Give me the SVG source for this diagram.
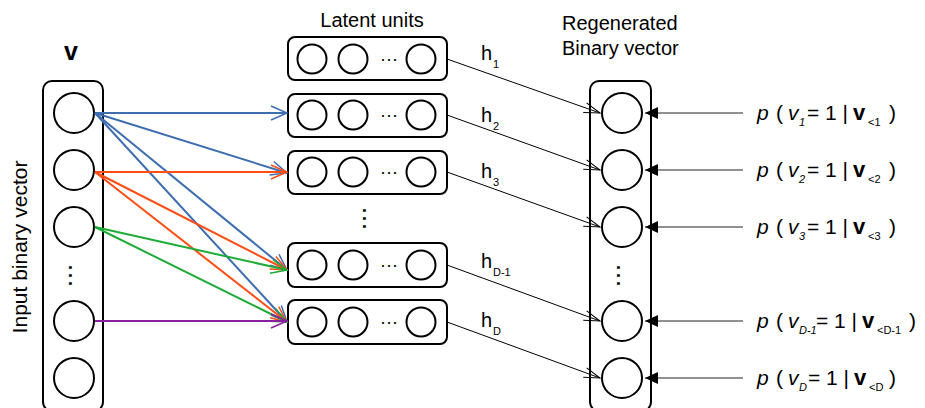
<svg xmlns="http://www.w3.org/2000/svg" width="925" height="408" viewBox="0 0 925 408">
<style>
text{font-family:"Liberation Sans",Arial,sans-serif;fill:#000}
.t{font-size:20px}
.c{fill:#fff;stroke:#000;stroke-width:2}
.box{fill:#fff;stroke:#000;stroke-width:2}
.dots{font-size:18px;font-weight:bold}
.sd{font-size:18px}
.h{fill:none;stroke:#000;stroke-width:1;marker-end:url(#mk)}
.p{fill:none;stroke:#222;stroke-width:1.2;marker-end:url(#mf)}
.bl{stroke:#3e6db0;stroke-width:2;fill:none;marker-end:url(#mb)}
.or{stroke:#ff4d14;stroke-width:2;fill:none;marker-end:url(#mo)}
.gr{stroke:#1eab38;stroke-width:2;fill:none;marker-end:url(#mg)}
.pu{stroke:#8a1f9e;stroke-width:2;fill:none;marker-end:url(#mp)}
.pl{font-size:21px}
.s{font-size:11px}
</style>
<defs>
<marker id="mb" markerUnits="userSpaceOnUse" markerWidth="20" markerHeight="18" refX="17" refY="8" orient="auto"><path d="M1,1 L17,8 L1,15" fill="none" stroke="#3e6db0" stroke-width="1.5"/></marker>
<marker id="mo" markerUnits="userSpaceOnUse" markerWidth="20" markerHeight="18" refX="17" refY="8" orient="auto"><path d="M1,1 L17,8 L1,15" fill="none" stroke="#ff4d14" stroke-width="1.5"/></marker>
<marker id="mg" markerUnits="userSpaceOnUse" markerWidth="20" markerHeight="18" refX="17" refY="8" orient="auto"><path d="M1,1 L17,8 L1,15" fill="none" stroke="#1eab38" stroke-width="1.5"/></marker>
<marker id="mp" markerUnits="userSpaceOnUse" markerWidth="20" markerHeight="18" refX="17" refY="8" orient="auto"><path d="M1,1 L17,8 L1,15" fill="none" stroke="#8a1f9e" stroke-width="1.5"/></marker>
<marker id="mk" markerUnits="userSpaceOnUse" markerWidth="20" markerHeight="16" refX="17" refY="8" orient="auto"><path d="M1,3 L17,8 L1,13" fill="none" stroke="#000" stroke-width="1"/></marker>
<marker id="mf" markerUnits="userSpaceOnUse" markerWidth="16" markerHeight="14" refX="13" refY="6" orient="auto"><path d="M0,0 L13,6 L0,12 z" fill="#000"/></marker>
</defs>

<text x="71" y="60" text-anchor="middle" style="font-size:25px;font-weight:bold">v</text>
<text transform="translate(27,247) rotate(-90)" text-anchor="middle" style="font-size:21px">Input binary vector</text>
<text x="372" y="27" text-anchor="middle" class="t">Latent units</text>
<text x="562" y="30" class="t">Regenerated</text>
<text x="562" y="55" class="t">Binary vector</text>

<g id="input">
<rect x="43" y="81" width="60" height="330" rx="9" class="box"/>
<circle cx="74" cy="113" r="20" class="c"/>
<circle cx="74" cy="170" r="20" class="c"/>
<circle cx="74" cy="227" r="20" class="c"/>
<text transform="translate(69,277) rotate(90)" text-anchor="middle" class="dots" letter-spacing="3">...</text>
<circle cx="74" cy="321" r="20" class="c"/>
<circle cx="74" cy="378" r="20" class="c"/>
</g>

<g id="latent1">
<rect x="288" y="37" width="159" height="43" rx="7" class="box"/>
<circle cx="312" cy="59" r="14.5" class="c"/><circle cx="353" cy="59" r="14.5" class="c"/>
<text x="389" y="65" text-anchor="middle" class="sd">···</text>
<circle cx="421" cy="59" r="14.5" class="c"/>
</g>
<g id="latent2">
<rect x="288" y="94" width="159" height="43" rx="7" class="box"/>
<circle cx="312" cy="115" r="14.5" class="c"/><circle cx="353" cy="115" r="14.5" class="c"/>
<text x="389" y="121" text-anchor="middle" class="sd">···</text>
<circle cx="421" cy="115" r="14.5" class="c"/>
</g>
<g id="latent3">
<rect x="288" y="151" width="159" height="43" rx="7" class="box"/>
<circle cx="312" cy="172" r="14.5" class="c"/><circle cx="353" cy="172" r="14.5" class="c"/>
<text x="389" y="178" text-anchor="middle" class="sd">···</text>
<circle cx="421" cy="172" r="14.5" class="c"/>
</g>
<text transform="translate(363,220) rotate(90)" text-anchor="middle" class="dots" letter-spacing="3">...</text>
<g id="latent4">
<rect x="288" y="243" width="159" height="44" rx="7" class="box"/>
<circle cx="312" cy="265" r="14.5" class="c"/><circle cx="353" cy="265" r="14.5" class="c"/>
<text x="389" y="271" text-anchor="middle" class="sd">···</text>
<circle cx="421" cy="265" r="14.5" class="c"/>
</g>
<g id="latent5">
<rect x="288" y="300" width="159" height="44" rx="7" class="box"/>
<circle cx="312" cy="322" r="14.5" class="c"/><circle cx="353" cy="322" r="14.5" class="c"/>
<text x="389" y="328" text-anchor="middle" class="sd">···</text>
<circle cx="421" cy="322" r="14.5" class="c"/>
</g>

<g id="output">
<rect x="590" y="81" width="61" height="330" rx="9" class="box"/>
<circle cx="622" cy="113" r="20" class="c"/>
<circle cx="622" cy="170" r="20" class="c"/>
<circle cx="622" cy="227" r="20" class="c"/>
<text transform="translate(617,277) rotate(90)" text-anchor="middle" class="dots" letter-spacing="3">...</text>
<circle cx="622" cy="321" r="20" class="c"/>
<circle cx="622" cy="378" r="20" class="c"/>
</g>

<g id="connectors">
<line x1="95" y1="113" x2="287" y2="113" class="bl"/>
<line x1="95" y1="113" x2="287" y2="173" class="bl"/>
<line x1="95" y1="113" x2="287" y2="270" class="bl"/>
<line x1="95" y1="113" x2="287" y2="322" class="bl"/>
<line x1="95" y1="172" x2="287" y2="172" class="or"/>
<line x1="95" y1="172" x2="287" y2="270" class="or"/>
<line x1="95" y1="172" x2="287" y2="322" class="or"/>
<line x1="95" y1="227" x2="287" y2="270" class="gr"/>
<line x1="95" y1="227" x2="287" y2="322" class="gr"/>
<line x1="95" y1="321" x2="287" y2="321" class="pu"/>

<line x1="447" y1="59" x2="600" y2="113" class="h"/>
<line x1="447" y1="115" x2="600" y2="170" class="h"/>
<line x1="447" y1="172" x2="600" y2="227" class="h"/>
<line x1="447" y1="265" x2="600" y2="321" class="h"/>
<line x1="447" y1="322" x2="600" y2="378" class="h"/>

<line x1="743" y1="113" x2="645" y2="113" class="p"/>
<line x1="743" y1="170" x2="645" y2="170" class="p"/>
<line x1="743" y1="227" x2="645" y2="227" class="p"/>
<line x1="743" y1="321" x2="645" y2="321" class="p"/>
<line x1="743" y1="378" x2="645" y2="378" class="p"/>
</g>

<g id="hlabels" class="t">
<text x="481" y="60">h<tspan x="493" y="68" class="s">1</tspan></text>
<text x="481" y="122">h<tspan x="493" y="130" class="s">2</tspan></text>
<text x="481" y="178">h<tspan x="493" y="186" class="s">3</tspan></text>
<text x="481" y="268">h<tspan x="493" y="276" class="s">D-1</tspan></text>
<text x="481" y="327">h<tspan x="493" y="335" class="s">D</tspan></text>
</g>

<g id="plabels" class="pl">
<text y="120"><tspan x="757" font-style="italic">p</tspan><tspan x="776">(</tspan><tspan x="788" font-style="italic">v</tspan><tspan x="799" y="126" class="s" font-style="italic">1</tspan><tspan x="807" y="120">= 1 |</tspan><tspan x="853" font-weight="bold" style="font-size:22px">v</tspan><tspan x="868" y="126" class="s">&lt;1</tspan><tspan x="889" y="120">)</tspan></text>
<text y="177"><tspan x="757" font-style="italic">p</tspan><tspan x="776">(</tspan><tspan x="788" font-style="italic">v</tspan><tspan x="799" y="183" class="s" font-style="italic">2</tspan><tspan x="807" y="177">= 1 |</tspan><tspan x="853" font-weight="bold" style="font-size:22px">v</tspan><tspan x="868" y="183" class="s">&lt;2</tspan><tspan x="889" y="177">)</tspan></text>
<text y="234"><tspan x="757" font-style="italic">p</tspan><tspan x="776">(</tspan><tspan x="788" font-style="italic">v</tspan><tspan x="799" y="240" class="s" font-style="italic">3</tspan><tspan x="807" y="234">= 1 |</tspan><tspan x="853" font-weight="bold" style="font-size:22px">v</tspan><tspan x="868" y="240" class="s">&lt;3</tspan><tspan x="889" y="234">)</tspan></text>
<text y="328"><tspan x="757" font-style="italic">p</tspan><tspan x="776">(</tspan><tspan x="788" font-style="italic">v</tspan><tspan x="799" y="334" class="s" font-style="italic">D-1</tspan><tspan x="816" y="328">= 1 |</tspan><tspan x="862" font-weight="bold" style="font-size:22px">v</tspan><tspan x="877" y="334" class="s">&lt;D-1</tspan><tspan x="909" y="328">)</tspan></text>
<text y="385"><tspan x="757" font-style="italic">p</tspan><tspan x="776">(</tspan><tspan x="788" font-style="italic">v</tspan><tspan x="799" y="391" class="s" font-style="italic">D</tspan><tspan x="808" y="385">= 1 |</tspan><tspan x="854" font-weight="bold" style="font-size:22px">v</tspan><tspan x="869" y="391" class="s">&lt;D</tspan><tspan x="889" y="385">)</tspan></text>
</g>
</svg>
